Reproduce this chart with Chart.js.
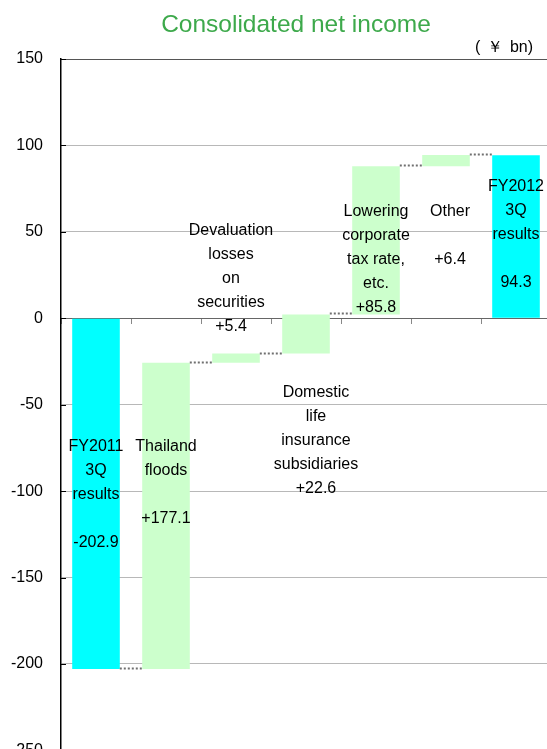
<!DOCTYPE html>
<html>
<head>
<meta charset="utf-8">
<script src="https://cdn.jsdelivr.net/npm/chart.js@4/dist/chart.umd.min.js"></script>
<style>
  html, body { margin: 0; padding: 0; background: #fff; overflow: hidden; }
  #wrap { width: 551px; height: 778px; }
</style>
</head>
<body>
<div id="wrap"><canvas id="myChart" width="551" height="778"></canvas></div>
<script>
// waterfall data (¥bn)
const categories = ["FY2011 3Q results", "Thailand floods", "Devaluation losses on securities",
  "Domestic life insurance subsidiaries", "Lowering corporate tax rate, etc.", "Other", "FY2012 3Q results"];
const changes = [-202.9, 177.1, 5.4, 22.6, 85.8, 6.4, 94.3];
const isTotal = [true, false, false, false, false, false, true];
const labelLines = [
  ["FY2011", "3Q", "results", "", "-202.9"],
  ["Thailand", "floods", "", "+177.1"],
  ["Devaluation", "losses", "on", "securities", "+5.4"],
  ["Domestic", "life", "insurance", "subsidiaries", "+22.6"],
  ["Lowering", "corporate", "tax rate,", "etc.", "+85.8"],
  ["Other", "", "+6.4"],
  ["FY2012", "3Q", "results", "", "94.3"]
];
const yTicks = { min: -250, max: 150, step: 50 };

// label placement (value of first text line, x nudge in px)
const labelTop = [-74.5, -74.5, 50.5, -43, 62, 62, 76];
const labelDx = [0, 0, -5, 10, 0, 4, 0];

// build floating bars
let running = 0;
const bars = [];
const levels = [];
changes.forEach((c, i) => {
  if (isTotal[i]) {
    bars.push([0, c]);
    running = c;
  } else {
    bars.push([running, running + c]);
    running = running + c;
  }
  levels.push(running);
});

const FONT = "'Liberation Sans', Arial, sans-serif";

const connectors = {
  id: "connectors",
  afterDatasetsDraw(chart) {
    const ctx = chart.ctx;
    const meta = chart.getDatasetMeta(0);
    const y = chart.scales.y;
    ctx.save();
    ctx.strokeStyle = "#707070";
    ctx.lineWidth = 2;
    ctx.setLineDash([2, 2]);
    for (let i = 0; i < meta.data.length - 1; i++) {
      const a = meta.data[i], b = meta.data[i + 1];
      const py = Math.round(y.getPixelForValue(levels[i])) - 0.5;
      ctx.beginPath();
      ctx.moveTo(a.x + a.width / 2, py);
      ctx.lineTo(b.x - b.width / 2, py);
      ctx.stroke();
    }
    ctx.restore();

    // small inward tick marks on the y axis
    ctx.save();
    ctx.strokeStyle = "#000";
    ctx.lineWidth = 1;
    y.ticks.forEach((t) => {
      const py = Math.round(y.getPixelForValue(t.value)) + 0.5;
      ctx.beginPath();
      ctx.moveTo(y.right, py);
      ctx.lineTo(y.right + 5, py);
      ctx.stroke();
    });
    ctx.restore();
  }
};

const textLabels = {
  id: "textLabels",
  afterDraw(chart) {
    const ctx = chart.ctx;
    const meta = chart.getDatasetMeta(0);
    const y = chart.scales.y;
    ctx.save();
    ctx.fillStyle = "#000";
    ctx.font = "16px " + FONT;
    ctx.textAlign = "center";
    ctx.textBaseline = "middle";
    labelLines.forEach((lines, i) => {
      const x = meta.data[i].x + labelDx[i];
      const top = y.getPixelForValue(labelTop[i]);
      lines.forEach((t, k) => ctx.fillText(t, x, top + k * 24));
    });

    // title and unit
    ctx.fillStyle = "#3DA94B";
    ctx.font = "24.5px " + FONT;
    ctx.fillText("Consolidated net income", 296, 25);
    ctx.fillStyle = "#000";
    ctx.font = "16px " + FONT;
    ctx.textAlign = "left";
    ctx.fillText("(", 475, 48);
    ctx.textAlign = "center";
    ctx.fillText("￥", 495, 48);
    ctx.textAlign = "right";
    ctx.fillText("bn)", 533, 48);
    ctx.restore();
  }
};

const ctx = document.getElementById("myChart").getContext("2d");
new Chart(ctx, {
  type: "bar",
  data: {
    labels: categories,
    datasets: [{
      data: bars,
      backgroundColor: isTotal.map(t => t ? "#00FFFF" : "#CCFFCC"),
      borderWidth: 0,
      barPercentage: 0.68,
      categoryPercentage: 1
    }]
  },
  options: {
    responsive: false,
    devicePixelRatio: 1,
    animation: false,
    layout: { padding: { top: 59, left: 9, right: 0, bottom: 10 } },
    plugins: {
      legend: { display: false },
      tooltip: { enabled: false }
    },
    scales: {
      x: {
        position: { y: 0 },
        grid: {
          drawOnChartArea: false,
          offset: true,
          tickLength: 5,
          color: "#888"
        },
        border: { color: "#666", width: 1 },
        ticks: { display: false }
      },
      y: {
        min: yTicks.min,
        max: yTicks.max,
        afterFit: (scale) => { scale.width = 52; },
        ticks: {
          stepSize: yTicks.step,
          color: "#000",
          font: { family: FONT, size: 16 },
          padding: 18
        },
        grid: {
          drawTicks: false,
          color: (c) => (c.tick && (c.tick.value === 150 || c.tick.value === 0)) ? "#555" : "#b8b8b8"
        },
        border: { color: "#000", width: 1.5 }
      }
    }
  },
  plugins: [connectors, textLabels]
});
</script>
</body>
</html>
